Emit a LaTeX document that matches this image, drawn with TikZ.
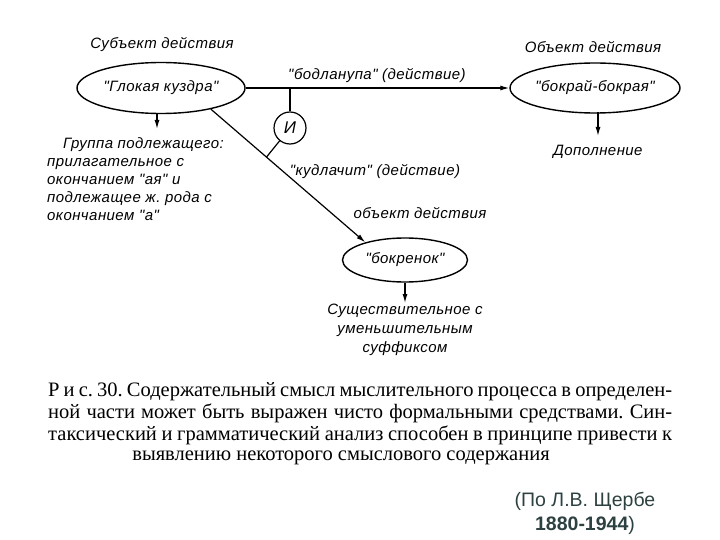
\documentclass[tikz,border=0pt]{standalone}
\usepackage{fontspec}
\setmainfont{Liberation Serif}
\newfontfamily\capfont{Liberation Serif}
\newfontfamily\labfont{Liberation Sans}[LetterSpace=3]
\newfontfamily\citefont{Liberation Sans}
\usetikzlibrary{shapes.geometric,arrows.meta,calc}
\definecolor{citecol}{RGB}{45,65,65}
\frenchspacing
\begin{document}
\begin{tikzpicture}[x=1pt,y=-1pt,
  lab/.style={font=\labfont\itshape\fontsize{15}{18}\selectfont, inner sep=1pt},
  oval/.style={ellipse, draw, line width=1.4pt, inner sep=0pt, font=\labfont\itshape\fontsize{15}{18}\selectfont},
  conn/.style={line width=1.2pt},
  arr/.style={line width=1.2pt, -{Latex[length=9pt,width=5pt]}},
  capline/.style={font=\capfont\fontsize{20.5}{22}\selectfont, inner sep=0pt},
  cite/.style={font=\citefont\fontsize{19.5}{22}\selectfont, text=citecol, inner sep=0pt}]
\useasboundingbox (0,0) rectangle (720,540);
\fill[white] (0,0) rectangle (720,540);

% top left
\node[lab] (sublab) at (162,45) {Субъект действия};
\node[oval, minimum width=168pt, minimum height=51pt] (e1) at (161,88) {"Глокая куздра"};

% top right
\node[lab] (objlab) at (593,47) {Объект действия};
\node[oval, minimum width=170pt, minimum height=50pt] (e2) at (595,88) {"бокрай-бокрая"};

% main arrow
\draw[arr] (e1.east) -- (e2.west);
\node[lab] (act1) at (377,76) {"бодланупа" (действие)};

% junction and circle
\coordinate (j1) at (290,88);
\node[circle, draw, line width=1.2pt, minimum size=32pt, inner sep=0pt,
      font=\labfont\itshape\fontsize{17}{18}\selectfont] (c) at (290,128) {И};
\draw[conn] (j1) -- (c.north);

% bottom ellipse
\node[lab] (obj2lab) at (420,213) {объект действия};
\node[oval, minimum width=125pt, minimum height=44pt] (e3) at (405,260) {"бокренок"};

% diagonal
\draw[arr] (e1.-23) -- (e3.156);
\coordinate (j2) at ($(e1.-23)!0.36!(e3.156)$);
\draw[conn] (c) -- (j2);
\node[lab] (act2) at (375,172) {"кудлачит" (действие)};

% left description
\coordinate (a1) at (157,129);
\draw[arr] (157,113) -- (a1);
\node[lab, anchor=north west, align=left] (t1) at (46,136)
  {\hspace*{16pt}Группа подлежащего:\\прилагательное с\\окончанием "ая" и\\подлежащее ж. рода с\\окончанием "а"};

% right description
\coordinate (a2) at (598,136);
\draw[arr] (598,112) -- (a2);
\node[lab] (t2) at (598,152) {Дополнение};

% bottom description
\node[lab, align=center, anchor=north, font=\labfont\itshape\fontsize{15}{19}\selectfont] (t3) at (405,303)
  {Существительное с\\уменьшительным\\суффиксом};
\draw[arr] (e3.south) -- (t3.north);

% caption
\node[capline, anchor=west] (cap1) at (48,392) {\makebox[624pt][s]{Р и с. 30. Содержательный смысл мыслительного процесса в определен-}};
\node[capline, anchor=west] (cap2) at (48,413) {\makebox[624pt][s]{ной части может быть выражен чисто формальными средствами. Син-}};
\node[capline, anchor=west] (cap3) at (48,435) {\makebox[624pt][s]{таксический и грамматический анализ способен в принципе привести к}};
\node[capline] (cap4) at (341,458) {выявлению некоторого смыслового содержания};

% citation
\node[cite] (cit1) at (585,501) {(По Л.В. Щербе};
\node[cite] (cit2) at (585,525) {\textbf{1880-1944})};
\end{tikzpicture}
\end{document}
